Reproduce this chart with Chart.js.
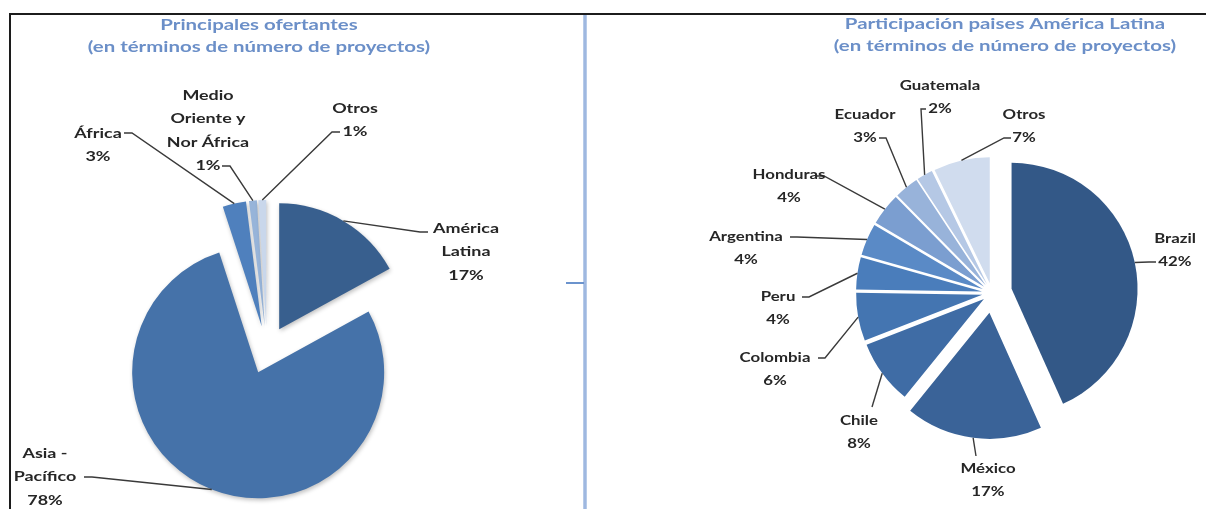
<!DOCTYPE html>
<html>
<head>
<meta charset="utf-8">
<script src="https://cdn.jsdelivr.net/npm/chart.js@4.4.0/dist/chart.umd.min.js"></script>
<style>
  html, body { margin: 0; padding: 0; background: #fff; }
  #page { position: relative; width: 1206px; height: 509px; overflow: hidden; }
  #page canvas { position: absolute; left: 0; top: 0; }
  .rule { position: absolute; background: #1c1c1c; }
  .divider { position: absolute; background: #b7cbe9; }
</style>
</head>
<body>
<div id="page">
  <div class="rule" style="left:9px;top:13px;width:1197px;height:2px"></div>
  <div class="rule" style="left:9px;top:13px;width:2px;height:496px"></div>
  <div class="divider" style="left:583px;top:15px;width:4px;height:494px"></div>
  <div class="divider" style="left:584px;top:15px;width:2px;height:494px;background:#9fb8e0"></div>
  <div class="divider" style="left:566px;top:282px;width:18px;height:2px;background:#6b93cd"></div>
  <canvas id="ofertantes" width="1206" height="509"></canvas>
  <canvas id="latam" width="1206" height="509"></canvas>
</div>
<script>
// principales ofertantes, % of projects
const regionTitle = ['Principales ofertantes', '(en términos de número de proyectos)'];
const regionLabels = ['América Latina', 'Asia - Pacífico', 'África', 'Medio Oriente y Nor África', 'Otros'];
const regionShare = [17, 78, 3, 1, 1];

// latin american countries, % of projects
const countryTitle = ['Participación paises América Latina', '(en términos de número de proyectos)'];
const countryLabels = ['Brazil', 'México', 'Chile', 'Colombia', 'Peru', 'Argentina', 'Honduras', 'Ecuador', 'Guatemala', 'Otros'];
const countryShare = [42, 17, 8, 6, 4, 4, 4, 3, 2, 7];

const regionColors = ['#385f8e', '#4572a9', '#4f80bd', '#97b4d9', '#c9d7eb'];
const countryColors = ['#335887', '#3a6398', '#3f6ca5', '#4475b1', '#4a7dbb', '#5a8ac6', '#7b9ed0', '#98b3da', '#b5c8e5', '#d0dcee'];

// how far each slice is pulled out of the pie, px
const regionPull = [24, 24, 24, 24, 24];
const countryPull = [20, 20, 10, 10, 10, 10, 10, 10, 10, 10];

// label placement: [centre x, first line y, leader end x, leader end y, stub]
const regionCallouts = [
  [466, 228, 428, 232, -8],
  [45, 453, 84, 477, 8],
  [98, 133, 124, 133, 8],
  [208, 95, 222, 166, 8],
  [355, 108, 340, 132, -8]
];
const countryCallouts = [
  [1175, 238, 1156, 262, -7],
  [988, 468, 976, 456, 0],
  [859, 420, 872, 407, 0],
  [775, 357, 818, 358, 7],
  [778, 296, 802, 297, 7],
  [746, 236, 790, 237, 7],
  [789, 174, 817, 176, 7],
  [865, 114, 879, 138, 7],
  [940, 85, 926, 109, -5],
  [1024, 114, 1011, 138, -7]
];

const FONT = 'Lato';

// text drawn a little wider than the face, like the source typography
function stretchedText(ctx, text, x, y, sx) {
  ctx.save();
  ctx.translate(x, y);
  ctx.scale(sx, 1);
  ctx.fillText(text, 0, 0);
  ctx.restore();
}

function wrapText(ctx, text, maxW, sx) {
  const words = text.split(' ');
  const lines = [];
  let line = '';
  words.forEach(w => {
    const test = line ? line + ' ' + w : w;
    if (line && ctx.measureText(test).width * sx > maxW) { lines.push(line); line = w; }
    else line = test;
  });
  lines.push(line);
  return lines;
}

// pull slices out along their mid angle, keeping one radius for all
function explode(pull) {
  return {
    id: 'explode',
    afterDatasetsUpdate(chart) {
      chart.getDatasetMeta(0).data.forEach((arc, i) => {
        const mid = (arc.startAngle + arc.endAngle) / 2;
        arc.x += Math.cos(mid) * pull[i];
        arc.y += Math.sin(mid) * pull[i];
      });
    }
  };
}

function callouts(cfg) {
  return {
    id: 'callouts',
    afterDatasetsDraw(chart) {
      const ctx = chart.ctx;
      const meta = chart.getDatasetMeta(0);
      ctx.save();
      ctx.textAlign = 'center';
      ctx.textBaseline = 'middle';

      ctx.fillStyle = '#6b8fc8';
      ctx.font = 'bold 15px ' + FONT;
      cfg.title.forEach((t, i) => stretchedText(ctx, t, cfg.titleX, cfg.titleY + i * 22, 1.36));

      ctx.font = 'bold 14px ' + FONT;
      meta.data.forEach((arc, i) => {
        const mid = (arc.startAngle + arc.endAngle) / 2;
        const ex = arc.x + Math.cos(mid) * arc.outerRadius;
        const ey = arc.y + Math.sin(mid) * arc.outerRadius;
        const [cx, cy, ax, ay, stub] = cfg.pos[i];

        ctx.strokeStyle = '#3a3a3a';
        ctx.lineWidth = 1.4;
        ctx.beginPath();
        ctx.moveTo(ex, ey);
        ctx.lineTo(ax + stub, ay);
        ctx.lineTo(ax, ay);
        ctx.stroke();

        const lines = wrapText(ctx, chart.data.labels[i], cfg.wrap, cfg.sx);
        lines.push(chart.data.datasets[0].data[i] + '%');
        ctx.fillStyle = '#262626';
        lines.forEach((l, k) => stretchedText(ctx, l, cx, cy + k * 23.5, cfg.sx));
      });
      ctx.restore();
    }
  };
}

const softShadow = {
  id: 'softShadow',
  beforeDatasetsDraw(chart) {
    const c = chart.ctx;
    c.save();
    c.shadowColor = 'rgba(0,0,0,0.25)';
    c.shadowBlur = 4;
    c.shadowOffsetX = 1;
    c.shadowOffsetY = 2;
  },
  afterDatasetsDraw(chart) { chart.ctx.restore(); }
};

const baseOptions = {
  responsive: false,
  devicePixelRatio: 1,
  animation: false,
  radius: 126,
  plugins: { legend: { display: false }, tooltip: { enabled: false } }
};

new Chart(document.getElementById('ofertantes'), {
  type: 'pie',
  data: {
    labels: regionLabels,
    datasets: [{ data: regionShare, backgroundColor: regionColors, borderWidth: 0 }]
  },
  options: Object.assign({}, baseOptions, {
    layout: { padding: { left: 0, right: 672, top: 191, bottom: 0 } }
  }),
  plugins: [explode(regionPull), softShadow,
    callouts({ title: regionTitle, titleX: 259, titleY: 25, pos: regionCallouts, wrap: 100, sx: 1.28 })]
});

new Chart(document.getElementById('latam'), {
  type: 'pie',
  data: {
    labels: countryLabels,
    datasets: [{ data: countryShare, backgroundColor: countryColors, borderWidth: 0 }]
  },
  options: Object.assign({}, baseOptions, {
    layout: { padding: { left: 778, right: 0, top: 77, bottom: 0 } }
  }),
  plugins: [explode(countryPull),
    callouts({ title: countryTitle, titleX: 1005, titleY: 24, pos: countryCallouts, wrap: 200, sx: 1.2 })]
});
</script>
</body>
</html>
